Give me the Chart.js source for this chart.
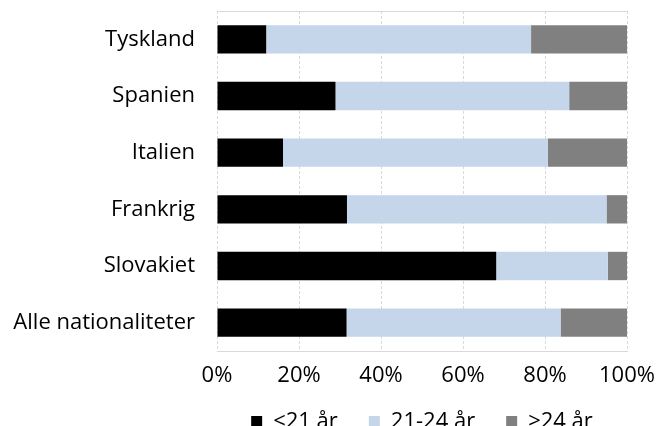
<!DOCTYPE html>
<html>
<head>
<meta charset="utf-8">
<script src="https://cdn.jsdelivr.net/npm/chart.js@4/dist/chart.umd.min.js"></script>
<style>
  html, body { margin: 0; padding: 0; background: #fff; }
  #wrap { width: 659px; height: 426px; }
</style>
</head>
<body>
<div id="wrap"><canvas id="agechart"></canvas></div>
<script>
// countries, top to bottom
const categories = ["Tyskland", "Spanien", "Italien", "Frankrig", "Slovakiet", "Alle nationaliteter"];
const seriesNames = ["<21 år", "21-24 år", ">24 år"];
// shares in percent
const under21 = [12.0, 28.9, 16.1, 31.7, 68.1, 31.6];
const from21to24 = [64.6, 57.0, 64.6, 63.3, 27.2, 52.2];
const over24 = [23.4, 14.1, 19.3, 5.0, 4.7, 16.2];
const xTicks = [0, 20, 40, 60, 80, 100];

const fontFamily = "'Open Sans', Roboto, sans-serif";

const chartdata = {
  labels: categories,
  datasets: [
    { label: seriesNames[0], data: under21, backgroundColor: "#000000" },
    { label: seriesNames[1], data: from21to24, backgroundColor: "#c5d5ea" },
    { label: seriesNames[2], data: over24, backgroundColor: "#808080" }
  ]
};

// legend is centred under the plot, and runs off the bottom edge a little
const placeLegend = {
  id: "placeLegend",
  afterLayout: function(chart) {
    const lg = chart.legend;
    lg.left = chart.chartArea.left;
    lg.right = chart.chartArea.right;
    lg.top -= 21.5;
    lg.bottom -= 21.5;
  }
};

const config = {
  type: "bar",
  data: chartdata,
  plugins: [placeLegend],
  options: {
    indexAxis: "y",
    responsive: true,
    maintainAspectRatio: false,
    animation: false,
    layout: { padding: { top: 11, right: 32, left: 0, bottom: -38 } },
    datasets: {
      bar: { categoryPercentage: 0.5, barPercentage: 1.0, borderWidth: 0 }
    },
    scales: {
      x: {
        stacked: true,
        min: 0,
        max: 100,
        afterBuildTicks: function(scale) {
          scale.ticks = xTicks.map(function(v) { return { value: v }; });
        },
        afterFit: function(scale) { scale.height = 50; },
        grid: { color: "#d9d9d9", drawTicks: true, tickLength: 14, tickColor: "rgba(0,0,0,0)" },
        border: { display: true, color: "#d9d9d9", dash: [3, 2] },
        ticks: {
          padding: 0,
          color: "#000",
          font: { family: fontFamily, size: 22, lineHeight: 1 },
          callback: function(v) { return v + "%"; }
        }
      },
      xTop: {
        position: "top",
        min: 0,
        max: 100,
        grid: { display: false },
        ticks: { display: false },
        border: { display: true, color: "#d9d9d9" },
        afterFit: function(scale) { scale.height = 0; }
      },
      y: {
        stacked: true,
        afterFit: function(scale) { scale.width = 217; },
        grid: { display: true, drawOnChartArea: false, drawTicks: true, tickLength: 22, color: "rgba(0,0,0,0)" },
        border: { display: false },
        ticks: {
          padding: 0,
          color: "#000",
          font: { family: fontFamily, size: 22, lineHeight: 1 }
        }
      }
    },
    plugins: {
      legend: {
        position: "bottom",
        labels: {
          color: "#000",
          boxWidth: 11,
          boxHeight: 11,
          padding: 31,
          font: { family: fontFamily, size: 22 }
        }
      },
      tooltip: { enabled: false }
    }
  }
};

new Chart(document.getElementById("agechart"), config);
</script>
</body>
</html>
